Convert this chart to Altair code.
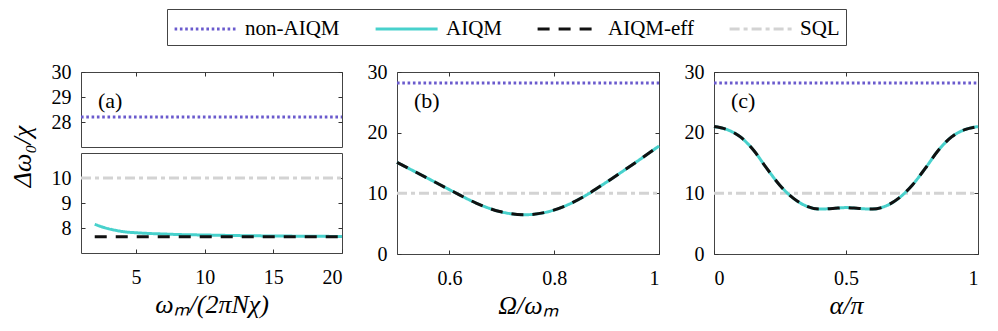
import altair as alt
import pandas as pd

FONT = "Liberation Serif"
SERIES = ["non-AIQM", "AIQM", "AIQM-eff", "SQL"]
COLORS = ["#6a5acd", "#48d1cc", "#111111", "#d3d3d3"]
DASHES = [[2.6, 2.7], [1, 0], [12, 9], [10, 4, 4, 4]]

# ---- Panel (a): broken axis ----
a_xlim = [1, 20]
a_xticks = [5, 10, 15, 20]
a_top_ylim = [27, 30]
a_top_yticks = [28, 29, 30]
a_bot_ylim = [7, 11]
a_bot_yticks = [8, 9, 10]
a_nonaiqm_x = [1, 20]
a_nonaiqm_y = [28.2, 28.2]
a_sql_x = [1, 20]
a_sql_y = [10, 10]
a_eff_x = [2, 20]
a_eff_y = [7.65, 7.65]
a_aiqm_x = [2, 2.5, 3, 3.5, 4, 5, 6, 7, 8, 10, 12, 15, 18, 20]
a_aiqm_y = [8.15, 8.05, 7.97, 7.91, 7.86, 7.81, 7.78, 7.76, 7.74, 7.72, 7.70, 7.68, 7.67, 7.66]

# ---- Panel (b) ----
b_xlim = [0.5, 1]
b_xticks = [0.6, 0.8, 1]
b_ylim = [0, 30]
b_yticks = [0, 10, 20, 30]
b_x = [0.5, 0.556, 0.607, 0.651, 0.696, 0.744, 0.785, 0.823, 0.861, 0.899, 0.937, 1.0]
b_y = [15.1, 12.6, 10.3, 8.4, 7.0, 6.47, 6.9, 8.0, 9.7, 11.8, 14.0, 17.8]
b_nonaiqm = 28.2
b_sql = 10

# ---- Panel (c) ----
c_xlim = [0, 1]
c_xticks = [0, 0.5, 1]
c_ylim = [0, 30]
c_yticks = [0, 10, 20, 30]
c_x = [0, 0.05, 0.1, 0.15, 0.2, 0.25, 0.3, 0.35, 0.4, 0.45, 0.5,
       0.55, 0.6, 0.65, 0.7, 0.75, 0.8, 0.85, 0.9, 0.95, 1.0]
c_y = [21.0, 20.5, 19.3, 17.1, 14.1, 11.3, 9.2, 7.9, 7.4, 7.5, 7.65,
       7.5, 7.4, 7.9, 9.2, 11.3, 14.1, 17.1, 19.3, 20.5, 21.0]
c_nonaiqm = 28.2
c_sql = 10

color_scale = alt.Scale(domain=SERIES, range=COLORS)
dash_scale = alt.Scale(domain=SERIES, range=DASHES)
leg = alt.Legend(
    title=None, orient="none", legendX=86, legendY=-63, direction="horizontal",
    symbolType="M-1,0L4,0", symbolSize=615, symbolStrokeWidth=3,
    labelFont=FONT, labelFontSize=21, labelColor="black", labelOffset=44,
    strokeColor="#444", fillColor="white", padding=6, columnPadding=29,
)

AX = dict(domain=False, tickColor="#333", tickSize=4, offset=-4, grid=False,
          labelFont=FONT, labelFontSize=20, labelColor="black",
          titleFont=FONT, titleColor="black", titleFontWeight="normal",
          titleFontStyle="italic", titleFontSize=26)


def series_layer(name, xs, ys, xsc, ysc):
    df = pd.DataFrame({"x": xs, "y": ys, "s": [name] * len(xs)})
    return alt.Chart(df).mark_line(strokeWidth=3, interpolate="monotone").encode(
        x=alt.X("x:Q", scale=xsc, axis=None),
        y=alt.Y("y:Q", scale=ysc, axis=None),
        color=alt.Color("s:N", scale=color_scale, legend=leg),
        strokeDash=alt.StrokeDash("s:N", scale=dash_scale, legend=leg),
    )


def axis_layer(xs, ys, xsc, ysc, xaxis, yaxis):
    df = pd.DataFrame({"x": xs, "y": ys})
    return alt.Chart(df).mark_line(opacity=0).encode(
        x=alt.X("x:Q", scale=xsc, axis=xaxis),
        y=alt.Y("y:Q", scale=ysc, axis=yaxis),
    )


def label_layer(txt):
    df = pd.DataFrame({"t": [txt]})
    return alt.Chart(df).mark_text(font=FONT, fontSize=22, align="left",
                                   baseline="middle", color="black").encode(
        text="t:N", x=alt.value(17), y=alt.value(29))


def panel(series, xlim, xticks, xfmt, ylim, yticks, w, h, xtitle=None,
          bottom_ticks=True, top_ticks=True, ytitle=None, label=None, ytitle_kw=None):
    xsc = alt.Scale(domain=xlim, nice=False, zero=False)
    ysc = alt.Scale(domain=ylim, nice=False, zero=False)
    order = ["SQL", "non-AIQM", "AIQM", "AIQM-eff"]
    smap = {s[0]: s for s in series}
    layers = [series_layer(*smap[n], xsc, ysc) for n in order if n in smap]
    fx, fy = series[0][1], series[0][2]
    if bottom_ticks:
        xa = alt.Axis(values=xticks, format=xfmt, labelPadding=14, title=xtitle,
                      titlePadding=4, **AX)
    else:
        xa = None
    ykw = dict(AX)
    if ytitle_kw:
        ykw.update(ytitle_kw)
    ya = alt.Axis(values=yticks, format="d", labelPadding=10, title=ytitle, **ykw)
    layers.append(axis_layer(fx, fy, xsc, ysc, xa, ya))
    mx = alt.Axis(orient="top", values=xticks, labels=False, title=None, **AX) if top_ticks else None
    my = alt.Axis(orient="right", values=yticks, labels=False, title=None, **AX)
    layers.append(axis_layer(fx, fy, xsc, ysc, mx, my))
    if label:
        layers.append(label_layer(label))
    return alt.layer(*layers).resolve_axis(x="independent", y="independent").properties(
        width=w, height=h)


a_top = panel([("non-AIQM", a_nonaiqm_x, a_nonaiqm_y)], a_xlim, a_xticks, "d",
              a_top_ylim, a_top_yticks, 261, 75, bottom_ticks=False, label="(a)")
a_bot = panel([("SQL", a_sql_x, a_sql_y), ("AIQM", a_aiqm_x, a_aiqm_y),
               ("AIQM-eff", a_eff_x, a_eff_y)], a_xlim, a_xticks, "d",
              a_bot_ylim, a_bot_yticks, 261, 100, xtitle="ωₘ/(2πNχ)", top_ticks=False,
              ytitle="Δω₀/χ",
              ytitle_kw=dict(titleY=3, titleX=-63, titleAngle=270,
                             titleAlign="center", titleBaseline="middle"))
a = alt.vconcat(a_top, a_bot, spacing=6, bounds="flush")

b = panel([("non-AIQM", b_xlim, [b_nonaiqm, b_nonaiqm]), ("SQL", b_xlim, [b_sql, b_sql]),
           ("AIQM", b_x, b_y), ("AIQM-eff", b_x, b_y)],
          b_xlim, b_xticks, ".1~f", b_ylim, b_yticks, 262, 182, xtitle="Ω/ωₘ", label="(b)")
c = panel([("non-AIQM", c_xlim, [c_nonaiqm, c_nonaiqm]), ("SQL", c_xlim, [c_sql, c_sql]),
           ("AIQM", c_x, c_y), ("AIQM-eff", c_x, c_y)],
          c_xlim, c_xticks, ".1~f", c_ylim, c_yticks, 264, 182, xtitle="α/π", label="(c)")

chart = alt.hconcat(a, b, c, spacing=17).resolve_scale(
    color="shared", strokeDash="shared").properties(
    padding={"left": 0, "top": 0, "right": 0, "bottom": 0}).configure(
    background="white", font=FONT).configure_view(stroke="#444", strokeWidth=1)

chart.save("out.html", embed_options={"renderer": "svg", "actions": False})
